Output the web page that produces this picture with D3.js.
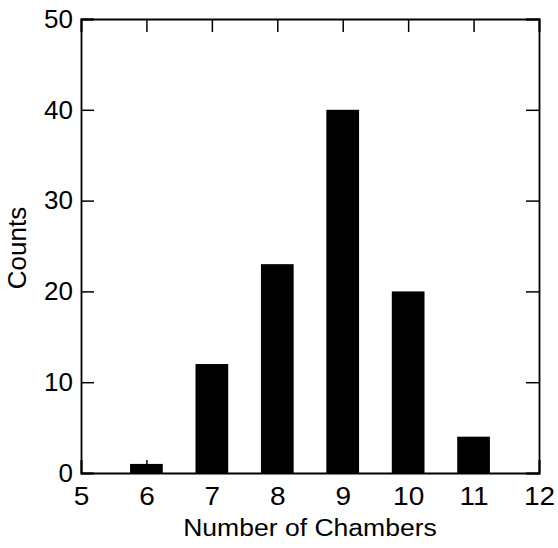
<!DOCTYPE html>
<html><head><meta charset="utf-8">
<script src="https://cdn.jsdelivr.net/npm/d3@7"></script>
<style>body{margin:0;background:#fff}svg{display:block}text{font-family:"Liberation Sans",Arial,sans-serif;fill:#000}</style>
</head><body>
<script>
const categories = [6, 7, 8, 9, 10, 11];
const counts = [1, 12, 23, 40, 20, 4];
const xTicks = [5, 6, 7, 8, 9, 10, 11, 12];
const yTicks = [0, 10, 20, 30, 40, 50];

const W = 558, H = 548;
const m = {l: 81, r: 19, t: 19, b: 75};
const svg = d3.select("body").append("svg").attr("width", W).attr("height", H);
const x = d3.scaleLinear().domain([5, 12]).range([m.l, W - m.r]);
const y = d3.scaleLinear().domain([0, 50]).range([H - m.b, m.t]);
const bw = (x(6) - x(5)) * 0.5;

svg.selectAll("rect.bar").data(categories).join("rect")
  .attr("x", d => x(d) - bw / 2).attr("width", bw)
  .attr("y", (d, i) => y(counts[i])).attr("height", (d, i) => y(0) - y(counts[i]))
  .attr("fill", "#000");

const tk = 13;
const axB = svg.append("g").attr("transform", `translate(0,${y(0)})`)
  .call(d3.axisBottom(x).tickValues(xTicks).tickSize(-tk).tickPadding(14).tickFormat(d3.format("d")));
const axT = svg.append("g").attr("transform", `translate(0,${y(50)})`)
  .call(d3.axisTop(x).tickValues(xTicks).tickSize(-tk).tickFormat(""));
const axL = svg.append("g").attr("transform", `translate(${x(5)},0)`)
  .call(d3.axisLeft(y).tickValues(yTicks).tickSize(-tk).tickPadding(8).tickFormat(d3.format("d")));
const axR = svg.append("g").attr("transform", `translate(${x(12)},0)`)
  .call(d3.axisRight(y).tickValues(yTicks).tickSize(-tk).tickFormat(""));
[axB, axT, axL, axR].forEach(g => {
  g.attr("font-size", null).attr("font-family", null);
  g.select(".domain").attr("stroke", "#000").attr("stroke-width", 1.8);
  g.selectAll(".tick line").attr("stroke", "#000").attr("stroke-width", 1.5);
  g.selectAll("text").attr("fill", "#000");
});
axB.selectAll("text").style("font-size", "25px").attr("transform", "scale(1.12,1)");
axL.selectAll("text").style("font-size", "26px");

svg.append("text").attr("transform", `translate(${(x(5) + x(12)) / 2},536) scale(1.13,1)`)
  .attr("text-anchor", "middle").style("font-size", "23.5px").text("Number of Chambers");
svg.append("text").attr("transform", `translate(26,${(y(0) + y(50)) / 2 + 2}) rotate(-90)`)
  .attr("text-anchor", "middle").style("font-size", "26px").text("Counts");
</script>
</body></html>
